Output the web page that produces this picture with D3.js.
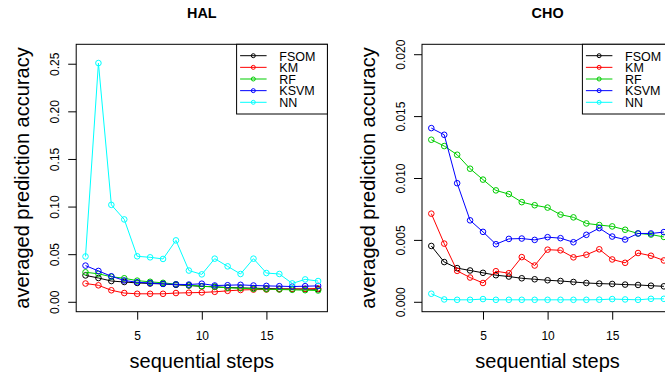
<!DOCTYPE html>
<html>
<head>
<meta charset="utf-8">
<script src="https://cdn.jsdelivr.net/npm/d3@7"></script>
<style>
html,body{margin:0;padding:0;background:#fff;overflow:hidden;}
svg{display:block;font-family:"Liberation Sans",Arial,Helvetica,sans-serif;}
</style>
</head>
<body>
<svg id="chart" width="665" height="378"></svg>
<script>
// ---- data ----
const steps = [1,2,3,4,5,6,7,8,9,10,11,12,13,14,15,16,17,18,19];
const seriesNames = ["FSOM","KM","RF","KSVM","NN"];
const seriesColors = ["#000000","#FF0000","#00CD00","#0000FF","#00FFFF"];

const halFSOM = [0.0277,0.0250,0.0218,0.0208,0.0198,0.0192,0.0188,0.0178,0.0171,0.0162,0.0157,0.0150,0.0146,0.0143,0.0139,0.0136,0.0135,0.0133,0.0132];
const halKM   = [0.0192,0.0173,0.0121,0.0092,0.0084,0.0084,0.0084,0.0092,0.0095,0.0098,0.0105,0.0115,0.0124,0.0128,0.0129,0.0132,0.0133,0.0136,0.0140];
const halRF   = [0.0310,0.0294,0.0263,0.0247,0.0222,0.0210,0.0199,0.0185,0.0174,0.0164,0.0157,0.0147,0.0143,0.0136,0.0132,0.0129,0.0126,0.0122,0.0119];
const halKSVM = [0.0380,0.0324,0.0268,0.0224,0.0205,0.0198,0.0188,0.0183,0.0181,0.0190,0.0171,0.0174,0.0178,0.0171,0.0167,0.0164,0.0160,0.0164,0.0167];
const halNN   = [0.0476,0.2507,0.1018,0.0865,0.0478,0.0467,0.0450,0.0645,0.0328,0.0288,0.0453,0.0372,0.0292,0.0453,0.0302,0.0292,0.0193,0.0235,0.0218];

const choFSOM = [0.00451,0.00321,0.00272,0.00253,0.00234,0.00215,0.00204,0.00190,0.00182,0.00174,0.00168,0.00160,0.00152,0.00147,0.00144,0.00139,0.00136,0.00130,0.00125];
const choKM   = [0.00712,0.00470,0.00250,0.00196,0.00152,0.00247,0.00231,0.00361,0.00293,0.00421,0.00416,0.00359,0.00380,0.00424,0.00342,0.00315,0.00394,0.00372,0.00334];
const choRF   = [0.01309,0.01258,0.01188,0.01075,0.00987,0.00900,0.00870,0.00805,0.00780,0.00761,0.00704,0.00682,0.00633,0.00620,0.00609,0.00582,0.00552,0.00543,0.00524];
const choKSVM = [0.01403,0.01349,0.00958,0.00658,0.00565,0.00465,0.00508,0.00511,0.00500,0.00522,0.00514,0.00481,0.00541,0.00595,0.00527,0.00503,0.00552,0.00552,0.00563];
const choNN   = [0.00065,0.00019,0.00016,0.00016,0.00022,0.00016,0.00016,0.00016,0.00016,0.00016,0.00016,0.00016,0.00016,0.00017,0.00022,0.00019,0.00016,0.00024,0.00024];

const xTicks = [5,10,15];
const halYTicks = [0.00,0.05,0.10,0.15,0.20,0.25];
const choYTicks = [0.000,0.005,0.010,0.015,0.020];
const halYLim = [0,0.26];
const choYLim = [0,0.02];

const panels = [
  {title:"HAL", left:76.2, series:[halFSOM,halKM,halRF,halKSVM,halNN], yTicks:halYTicks, yLim:halYLim, fmt:d3.format(".2f")},
  {title:"CHO", left:422.0, series:[choFSOM,choKM,choRF,choKSVM,choNN], yTicks:choYTicks, yLim:choYLim, fmt:d3.format(".3f")}
];

const svg = d3.select("#chart");
const plotTop = 44.3, plotBottom = 311.7, plotWidth = 251.2;
const ext = (lim) => { const p = (lim[1]-lim[0])*0.04; return [lim[0]-p, lim[1]+p]; };
const FONT = "Liberation Sans, Arial, sans-serif";

panels.forEach(p => {
  const g = svg.append("g");
  const xd = ext([d3.min(steps), d3.max(steps)]);
  const x = d3.scaleLinear().domain(xd).range([p.left, p.left+plotWidth]);
  const y = d3.scaleLinear().domain(ext(p.yLim)).range([plotBottom, plotTop]);

  // series
  const line = d3.line().x((d,i)=>x(steps[i])).y(d=>y(d));
  p.series.forEach((s,k) => {
    g.append("path").datum(s).attr("d", line)
      .attr("fill","none").attr("stroke",seriesColors[k]).attr("stroke-width",1);
    g.selectAll(null).data(s).enter().append("circle")
      .attr("cx",(d,i)=>x(steps[i])).attr("cy",d=>y(d)).attr("r",2.8)
      .attr("fill","none").attr("stroke",seriesColors[k]).attr("stroke-width",1);
  });

  // box
  g.append("rect").attr("x",x.range()[0]).attr("y",plotTop)
    .attr("width",plotWidth).attr("height",plotBottom-plotTop)
    .attr("fill","none").attr("stroke","#000").attr("stroke-width",1);

  // x axis
  const xa = g.append("g").attr("transform",`translate(0,${plotBottom})`)
    .call(d3.axisBottom(x).tickValues(xTicks).tickSize(8).tickFormat(d3.format("d")));
  xa.select(".domain").remove();
  xa.selectAll("line").attr("stroke","#000");
  xa.selectAll("text").attr("font-size",12).attr("font-family",FONT).attr("fill","#000")
    .attr("dy",null).attr("y",28);

  // y axis
  const ya = g.append("g").attr("transform",`translate(${x.range()[0]},0)`)
    .call(d3.axisLeft(y).tickValues(p.yTicks).tickSize(8).tickFormat(p.fmt));
  ya.select(".domain").remove();
  ya.selectAll("line").attr("stroke","#000");
  ya.selectAll("text").attr("font-size",12).attr("font-family",FONT).attr("fill","#000")
    .attr("x",null).attr("dy",null).attr("text-anchor","middle")
    .attr("transform","translate(-17,0) rotate(-90)");

  // titles and labels
  const cx = x.range()[0] + plotWidth/2;
  g.append("text").attr("x",cx).attr("y",18.3).attr("text-anchor","middle")
    .attr("font-size",14.4).attr("font-weight","bold").text(p.title);
  g.append("text").attr("x",cx).attr("y",368).attr("text-anchor","middle")
    .attr("font-size",20).text("sequential steps");
  g.append("text").attr("transform",`translate(${x.range()[0]-46.8},${(plotTop+plotBottom)/2}) rotate(-90)`)
    .attr("text-anchor","middle").attr("font-size",20).text("averaged prediction accuracy");

  // legend
  const lw = 90.8;
  const lx = x.range()[0]+plotWidth - lw;
  const lg = g.append("g");
  lg.append("rect").attr("x",lx).attr("y",plotTop).attr("width",lw).attr("height",114-plotTop)
    .attr("fill","#fff").attr("stroke","#000").attr("stroke-width",1);
  seriesNames.forEach((n,k) => {
    const ly = 55.7 + k*11.65;
    lg.append("line").attr("x1",lx+3.5).attr("x2",lx+30).attr("y1",ly).attr("y2",ly)
      .attr("stroke",seriesColors[k]).attr("stroke-width",1);
    lg.append("circle").attr("cx",lx+16.7).attr("cy",ly).attr("r",2)
      .attr("fill","none").attr("stroke",seriesColors[k]).attr("stroke-width",1);
    lg.append("text").attr("x",lx+42.7).attr("y",ly+4.8).attr("font-size",12.5).text(n);
  });
});
</script>
</body>
</html>
